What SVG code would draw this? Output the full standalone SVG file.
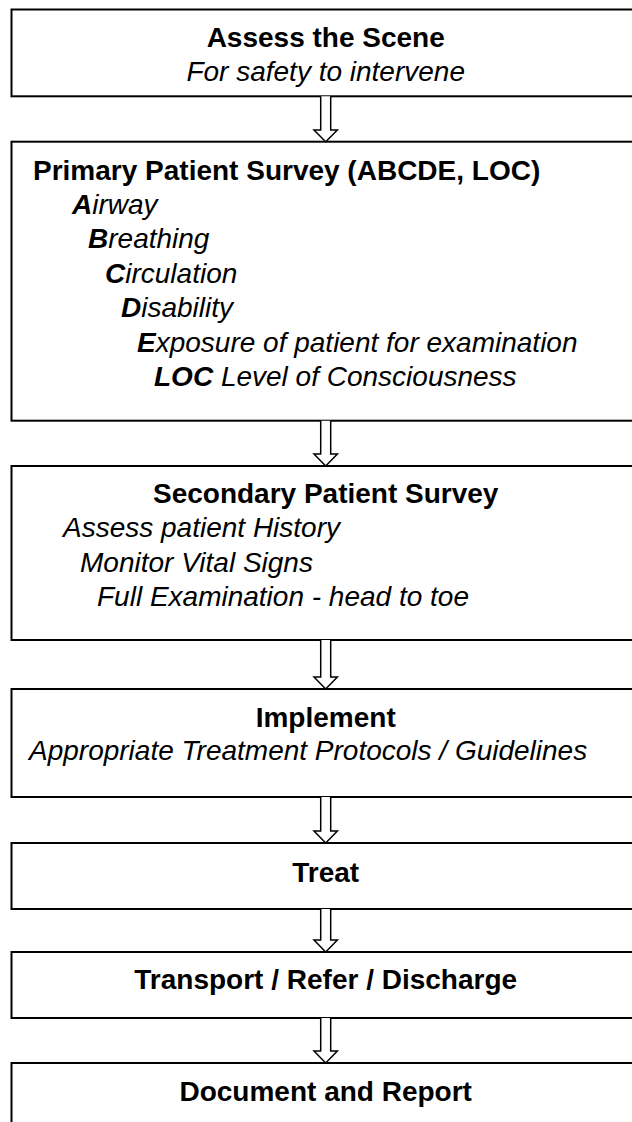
<svg xmlns="http://www.w3.org/2000/svg" width="632" height="1122" viewBox="0 0 632 1122">
<style>
.box{fill:#fff;stroke:#000;stroke-width:2}
.t{font-family:"Liberation Sans",Arial,sans-serif;font-size:28px;fill:#000}
.b{font-weight:bold}
.i{font-style:italic}
.c{text-anchor:middle}
.arr{fill:#fff;stroke:#000;stroke-width:1.5;stroke-linejoin:miter}
</style>
<rect width="632" height="1122" fill="#fff"/>
<g id="n1">
<rect class="box" x="11.5" y="9.5" width="640" height="86.8"/>
<text class="t b c" x="325.7" y="46.7">Assess the Scene</text>
<text class="t i c" x="325.7" y="81">For safety to intervene</text>
</g>
<g id="n2">
<rect class="box" x="11.5" y="141.7" width="640" height="279"/>
<text class="t b" x="33" y="180">Primary Patient Survey (ABCDE, LOC)</text>
<text class="t i" x="72" y="214"><tspan class="b">A</tspan>irway</text>
<text class="t i" x="88" y="248"><tspan class="b">B</tspan>reathing</text>
<text class="t i" x="105" y="283"><tspan class="b">C</tspan>irculation</text>
<text class="t i" x="121" y="317"><tspan class="b">D</tspan>isability</text>
<text class="t i" x="137" y="352"><tspan class="b">E</tspan>xposure of patient for examination</text>
<text class="t i" x="154" y="386"><tspan class="b">LOC</tspan> Level of Consciousness</text>
</g>
<g id="n3">
<rect class="box" x="11.5" y="466" width="640" height="174"/>
<text class="t b c" x="325.7" y="503">Secondary Patient Survey</text>
<text class="t i" x="63" y="537">Assess patient History</text>
<text class="t i" x="80" y="572">Monitor Vital Signs</text>
<text class="t i" x="97" y="606">Full Examination - head to toe</text>
</g>
<g id="n4">
<rect class="box" x="11.5" y="689" width="640" height="108"/>
<text class="t b c" x="325.7" y="727">Implement</text>
<text class="t i" x="29" y="760">Appropriate Treatment Protocols / Guidelines</text>
</g>
<g id="n5">
<rect class="box" x="11.5" y="843" width="640" height="66"/>
<text class="t b c" x="325.7" y="882">Treat</text>
</g>
<g id="n6">
<rect class="box" x="11.5" y="952" width="640" height="66"/>
<text class="t b c" x="325.7" y="989">Transport / Refer / Discharge</text>
</g>
<g id="n7">
<rect class="box" x="11.5" y="1063" width="640" height="80"/>
<text class="t b c" x="325.7" y="1101">Document and Report</text>
</g>
<g id="connectors">
<path class="arr" d="M320.7,96.3 V130 H314 L325.7,141.7 L337.4,130 H330.7 V96.3"/>
<path class="arr" d="M320.7,420.7 V454 H314 L325.7,466 L337.4,454 H330.7 V420.7"/>
<path class="arr" d="M320.7,640 V677 H314 L325.7,689 L337.4,677 H330.7 V640"/>
<path class="arr" d="M320.7,797 V831 H314 L325.7,843 L337.4,831 H330.7 V797"/>
<path class="arr" d="M320.7,909 V940 H314 L325.7,952 L337.4,940 H330.7 V909"/>
<path class="arr" d="M320.7,1018 V1051 H314 L325.7,1063 L337.4,1051 H330.7 V1018"/>
</g>
</svg>
